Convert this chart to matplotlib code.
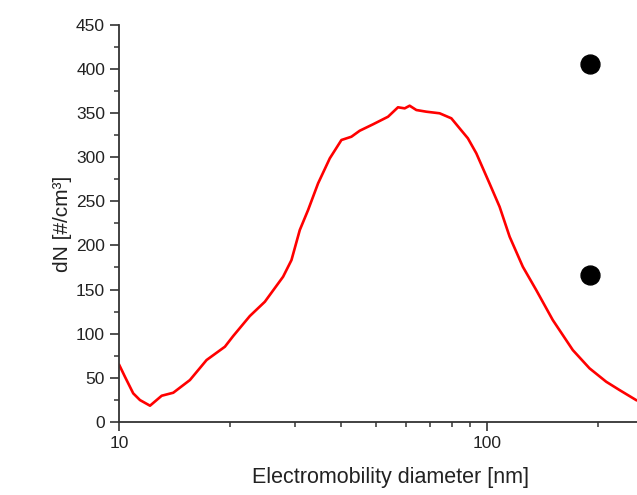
import numpy as np
import matplotlib
matplotlib.use('Agg')
import matplotlib.pyplot as plt
from matplotlib.ticker import LogLocator, MultipleLocator, NullFormatter, FixedLocator, FixedFormatter

# size distribution
diameter = [10.02, 10.38, 10.93, 11.40, 12.14, 13.06, 14.04, 15.58, 17.29, 19.39,
            20.42, 22.66, 24.89, 27.90, 29.40, 30.97, 32.62, 34.72, 37.36, 40.18,
            42.76, 45.04, 48.95, 53.77, 57.22, 59.67, 61.55, 64.19, 68.32, 74.23,
            79.88, 84.13, 88.59, 93.38, 101.4, 108.0, 115.0, 124.9, 135.8, 150.6,
            170.7, 189.5, 210.3, 228.5, 253.6]
dN = [64.3, 51.0, 32.2, 24.6, 18.2, 29.5, 32.9, 47.3, 70.0, 85.1,
      97.2, 119.9, 136.1, 164.5, 183.4, 217.5, 240.2, 270.4, 298.8, 319.6,
      323.3, 330.1, 337.4, 346.0, 356.7, 355.5, 358.5, 353.6, 351.7, 349.9,
      344.2, 332.8, 321.5, 304.5, 270.4, 243.9, 209.9, 175.8, 149.4, 115.4,
      81.3, 60.6, 45.4, 36.0, 24.6]

dot_x = [189.5, 189.5]
dot_y = [405.8, 166.4]

xticks = [10, 100]
xtick_labels = ['10', '100']

plt.rcParams['font.family'] = ['Liberation Sans', 'DejaVu Sans']

fig = plt.figure(figsize=(6.37, 4.95), dpi=100)
# the original plot is cropped on the right: axes run past the figure edge up to 300 nm
ax = fig.add_axes([0.1868, 0.148, 0.854, 0.8014])

ax.plot(diameter, dN, color='#ff0000', lw=1.9, solid_joinstyle='round')
ax.scatter(dot_x, dot_y, s=185, color='black', zorder=3, clip_on=False)

ax.set_xscale('log')
ax.set_xlim(10, 300)
ax.set_ylim(0, 450)

ax.xaxis.set_major_locator(FixedLocator(xticks))
ax.xaxis.set_major_formatter(FixedFormatter(xtick_labels))
ax.xaxis.set_minor_locator(LogLocator(base=10, subs=np.arange(2, 10)))
ax.xaxis.set_minor_formatter(NullFormatter())
ax.yaxis.set_major_locator(MultipleLocator(50))
ax.yaxis.set_minor_locator(MultipleLocator(25))

for side in ['top', 'right']:
    ax.spines[side].set_visible(False)
for side in ['left', 'bottom']:
    ax.spines[side].set_linewidth(1.3)
    ax.spines[side].set_color('#333333')

ax.tick_params(which='major', direction='out', length=6.5, width=1.2, color='#333333',
               labelsize=12.5, labelcolor='#222222', pad=3.5)
ax.tick_params(which='minor', direction='out', length=3.5, width=1.1, color='#333333')

ax.set_xlabel('Electromobility diameter [nm]', fontsize=15.5, color='#222222', labelpad=12)
ax.set_ylabel('dN [#/cm³]', fontsize=15, color='#222222', labelpad=3)

fig.savefig('out.png', dpi=100)
